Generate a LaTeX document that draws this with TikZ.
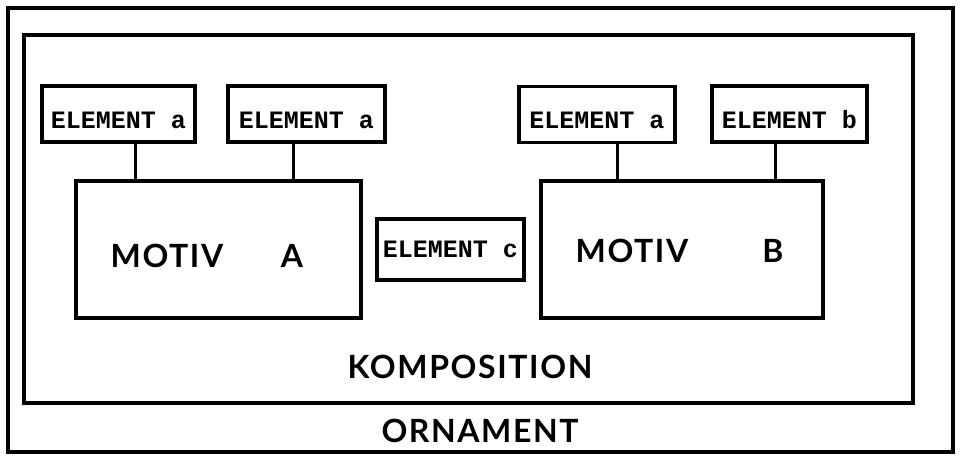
\documentclass[tikz,border=0pt]{standalone}
\usepackage{fontspec}
\setmainfont{Lato}
\newfontfamily\elemfont{Liberation Mono}
\newfontfamily\titlefont[LetterSpace=5]{Lato}
\usepackage{tikz}
\usetikzlibrary{positioning}

\begin{document}
\begin{tikzpicture}[x=1pt, y=-1pt,
    frame/.style={rectangle, draw, line width=3.8pt},
    element/.style={rectangle, draw, line width=3.4pt, font=\elemfont\bfseries\fontsize{25}{25}\selectfont, text height=29pt, text depth=0pt, minimum height=56pt, inner sep=0pt},
    motif/.style={rectangle, draw, line width=3.4pt, minimum height=137pt},
    title/.style={font=\titlefont\bfseries\fontsize{32}{32}\selectfont, inner sep=0pt},
    link/.style={line width=3pt}]

    \useasboundingbox (0,0) rectangle (961,457);

    \node[frame, minimum width=945pt, minimum height=444pt] (ornament) at (480.5,230) {};
    \node[frame, minimum width=889pt, minimum height=368pt] (komposition) at (468.5,219) {};

    \node[motif, minimum width=285pt] (motivA) at (218.5,249.5) {};
    \node[motif, minimum width=282pt] (motivB) at (682,249.5) {};

    \node[element, minimum width=153pt] (ea1) at (118.5,114) {ELEMENT a};
    \node[element, minimum width=157pt] (ea2) at (306.5,114) {ELEMENT a};
    \node[element, minimum width=156pt] (ea3) at (597,114.5) {ELEMENT a};
    \node[element, minimum width=155pt] (eb) at (789.5,114) {ELEMENT b};
    \node[element, minimum width=147pt, minimum height=61pt, text height=17pt] (ec) at (450.5,249.5) {ELEMENT c};

    \node[title] (motivAname) at (167,256) {MOTIV};
    \node[title] (motivAletter) at (292,256) {A};
    \node[title] (motivBname) at (632,251) {MOTIV};
    \node[title] (motivBletter) at (773,251) {B};
    \node[title] (kompname) at (470,367) {KOMPOSITION};
    \node[title] (ornname) at (480,431) {ORNAMENT};

    \draw[link] ([xshift=16.5pt]ea1.south) -- ([xshift=16.5pt]ea1.south |- motivA.north);
    \draw[link] ([xshift=-13.5pt]ea2.south) -- ([xshift=-13.5pt]ea2.south |- motivA.north);
    \draw[link] ([xshift=20pt]ea3.south) -- ([xshift=20pt]ea3.south |- motivB.north);
    \draw[link] ([xshift=-14.5pt]eb.south) -- ([xshift=-14.5pt]eb.south |- motivB.north);

\end{tikzpicture}
\end{document}
